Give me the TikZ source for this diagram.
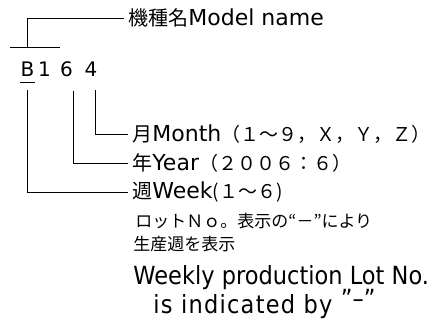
\documentclass[tikz,border=0pt]{standalone}
\usepackage{fontspec}
\setmainfont{DejaVu Sans}
\newfontfamily\jp{Noto Sans CJK JP}
\newfontfamily\narrowsans{DejaVu Sans}[FakeStretch=0.9]
\newcommand{\kj}[1]{{\jp\fontsize{20}{24}\selectfont #1}}
\newcommand{\zk}[1]{{\jp\fontsize{19}{23}\selectfont #1}}

\begin{document}
\begin{tikzpicture}[x=1pt,y=-1pt,line width=0.9pt,
    digit/.style={inner sep=0pt,anchor=base,font=\fontsize{20}{24}\selectfont},
    field/.style={inner xsep=4pt,inner ysep=0pt,anchor=base west,font=\fontsize{22}{26}\selectfont},
    remark/.style={inner sep=0pt,anchor=base west,font=\jp\fontsize{17}{21}\selectfont},
    remarken/.style={inner sep=0pt,anchor=base west,font=\narrowsans\fontsize{25}{30}\selectfont}]

  \useasboundingbox (0,0) rectangle (440,323);

  % Model code
  \node[digit] (B)    at (27.5,77) {B};
  \node[digit] (one)  at (44.5,77) {1};
  \node[digit] (six)  at (66.5,77) {6};
  \node[digit] (four) at (91,77)   {4};

  % Labels
  \node[field] (model) at (124,26)    {\kj{機種名}Model name};
  \node[field] (month) at (128,141.5) {\kj{月}Month\zk{（１～９，Ｘ，Ｙ，Ｚ）}};
  \node[field] (year)  at (128,170.5) {\kj{年}Year\zk{（２００６：６）}};
  \node[field] (week)  at (128,198.5) {\kj{週}Week\zk{(１～６)}};

  % Notes
  \node[remark] (lot)  at (135,228) {ロットＮｏ。表示の“－”により};
  \node[remark] (prod) at (133,251) {生産週を表示};
  \node[remarken] (weekly) at (133,285) {Weekly production Lot No.};
  \node[remarken] (ind)    at (153,314)
    {\addfontfeatures{LetterSpace=5}is indicated by \raisebox{6pt}{”}\raisebox{6pt}{–}\raisebox{6pt}{”}};

  % Leaders
  \coordinate (bar) at (27,47);
  \draw (10,47) -- (60,47);
  \draw (bar) |- (model.west);
  \draw ([yshift=-5pt]B.south west) -- ([yshift=-5pt]B.south east);
  \draw ([yshift=-13pt]B.south) |- (week.west);
  \draw ([yshift=-13pt]six.south east) |- (year.west);
  \draw ([shift={(4pt,-13pt)}]four.south) |- (month.west);

\end{tikzpicture}
\end{document}
